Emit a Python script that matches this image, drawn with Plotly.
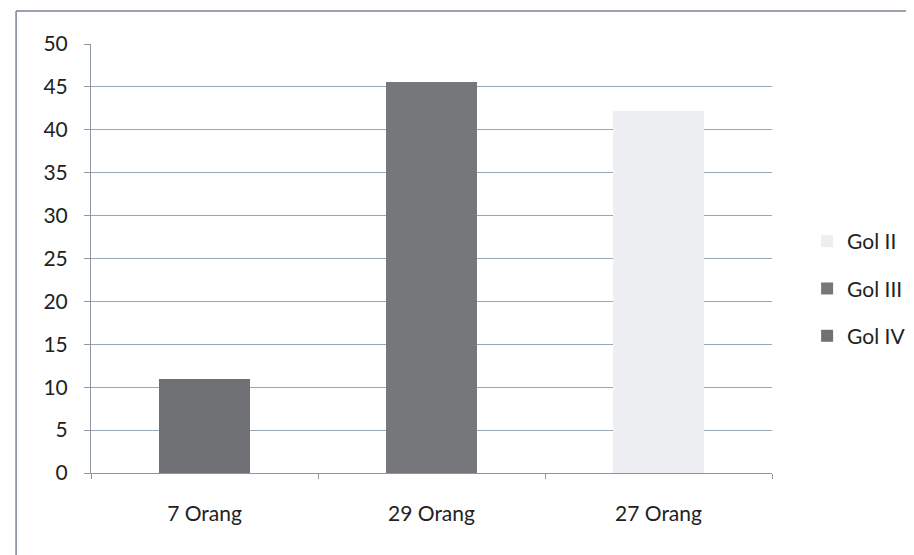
import plotly.graph_objects as go

categories = ["7 Orang", "29 Orang", "27 Orang"]
series_names = ["Gol IV", "Gol III", "Gol II"]
gol_iv = [11, None, None]
gol_iii = [None, 45.6, None]
gol_ii = [None, None, 42.2]
colors = {"Gol IV": "#6f7174", "Gol III": "#75777b", "Gol II": "#eceef2"}
legend_rank = {"Gol II": 1, "Gol III": 2, "Gol IV": 3}

fig = go.Figure()
for name, vals in zip(series_names, [gol_iv, gol_iii, gol_ii]):
    fig.add_trace(go.Bar(
        x=categories, y=vals, name=name, legendgroup=name,
        legendrank=legend_rank[name],
        marker=dict(color=colors[name], line=dict(width=0)),
    ))

font = "Lato, 'Open Sans', sans-serif"
fig.update_layout(
    width=914, height=555,
    barmode="stack", bargap=0.6,
    paper_bgcolor="white", plot_bgcolor="white",
    margin=dict(l=83, r=149, t=36, b=90),
    font=dict(family=font, size=21, color="#222"),
    showlegend=True,
    legend=dict(traceorder="grouped", x=1.05, y=0.43, xanchor="left", yanchor="middle",
                font=dict(size=21, color="#222"), itemwidth=30, tracegroupgap=17,
                bgcolor="rgba(0,0,0,0)"),
    xaxis=dict(showline=True, linecolor="#8c96a3", linewidth=1, ticks="outside",
               tickson="boundaries", ticklen=5, tickcolor="#8c96a3",
               tickfont=dict(size=21, color="#222"), showgrid=False,
               ticklabelstandoff=22),
    yaxis=dict(range=[0, 50], dtick=5, showline=True, linecolor="#8c96a3", linewidth=1,
               ticks="outside", ticklen=6, tickcolor="#8c96a3",
               showgrid=True, gridcolor="#9aa6b4", gridwidth=1, zeroline=False,
               tickfont=dict(size=21, color="#222"), ticklabelstandoff=12),
)

fig.add_shape(type="line", xref="paper", yref="paper", x0=-0.11, x1=1.25, y0=1.077, y1=1.077,
              line=dict(color="#7a8391", width=1.5))
fig.add_shape(type="line", xref="paper", yref="paper", x0=-0.11, x1=-0.11, y0=1.077, y1=-0.25,
              line=dict(color="#7a8391", width=1.5))

fig.write_html("out.html")
